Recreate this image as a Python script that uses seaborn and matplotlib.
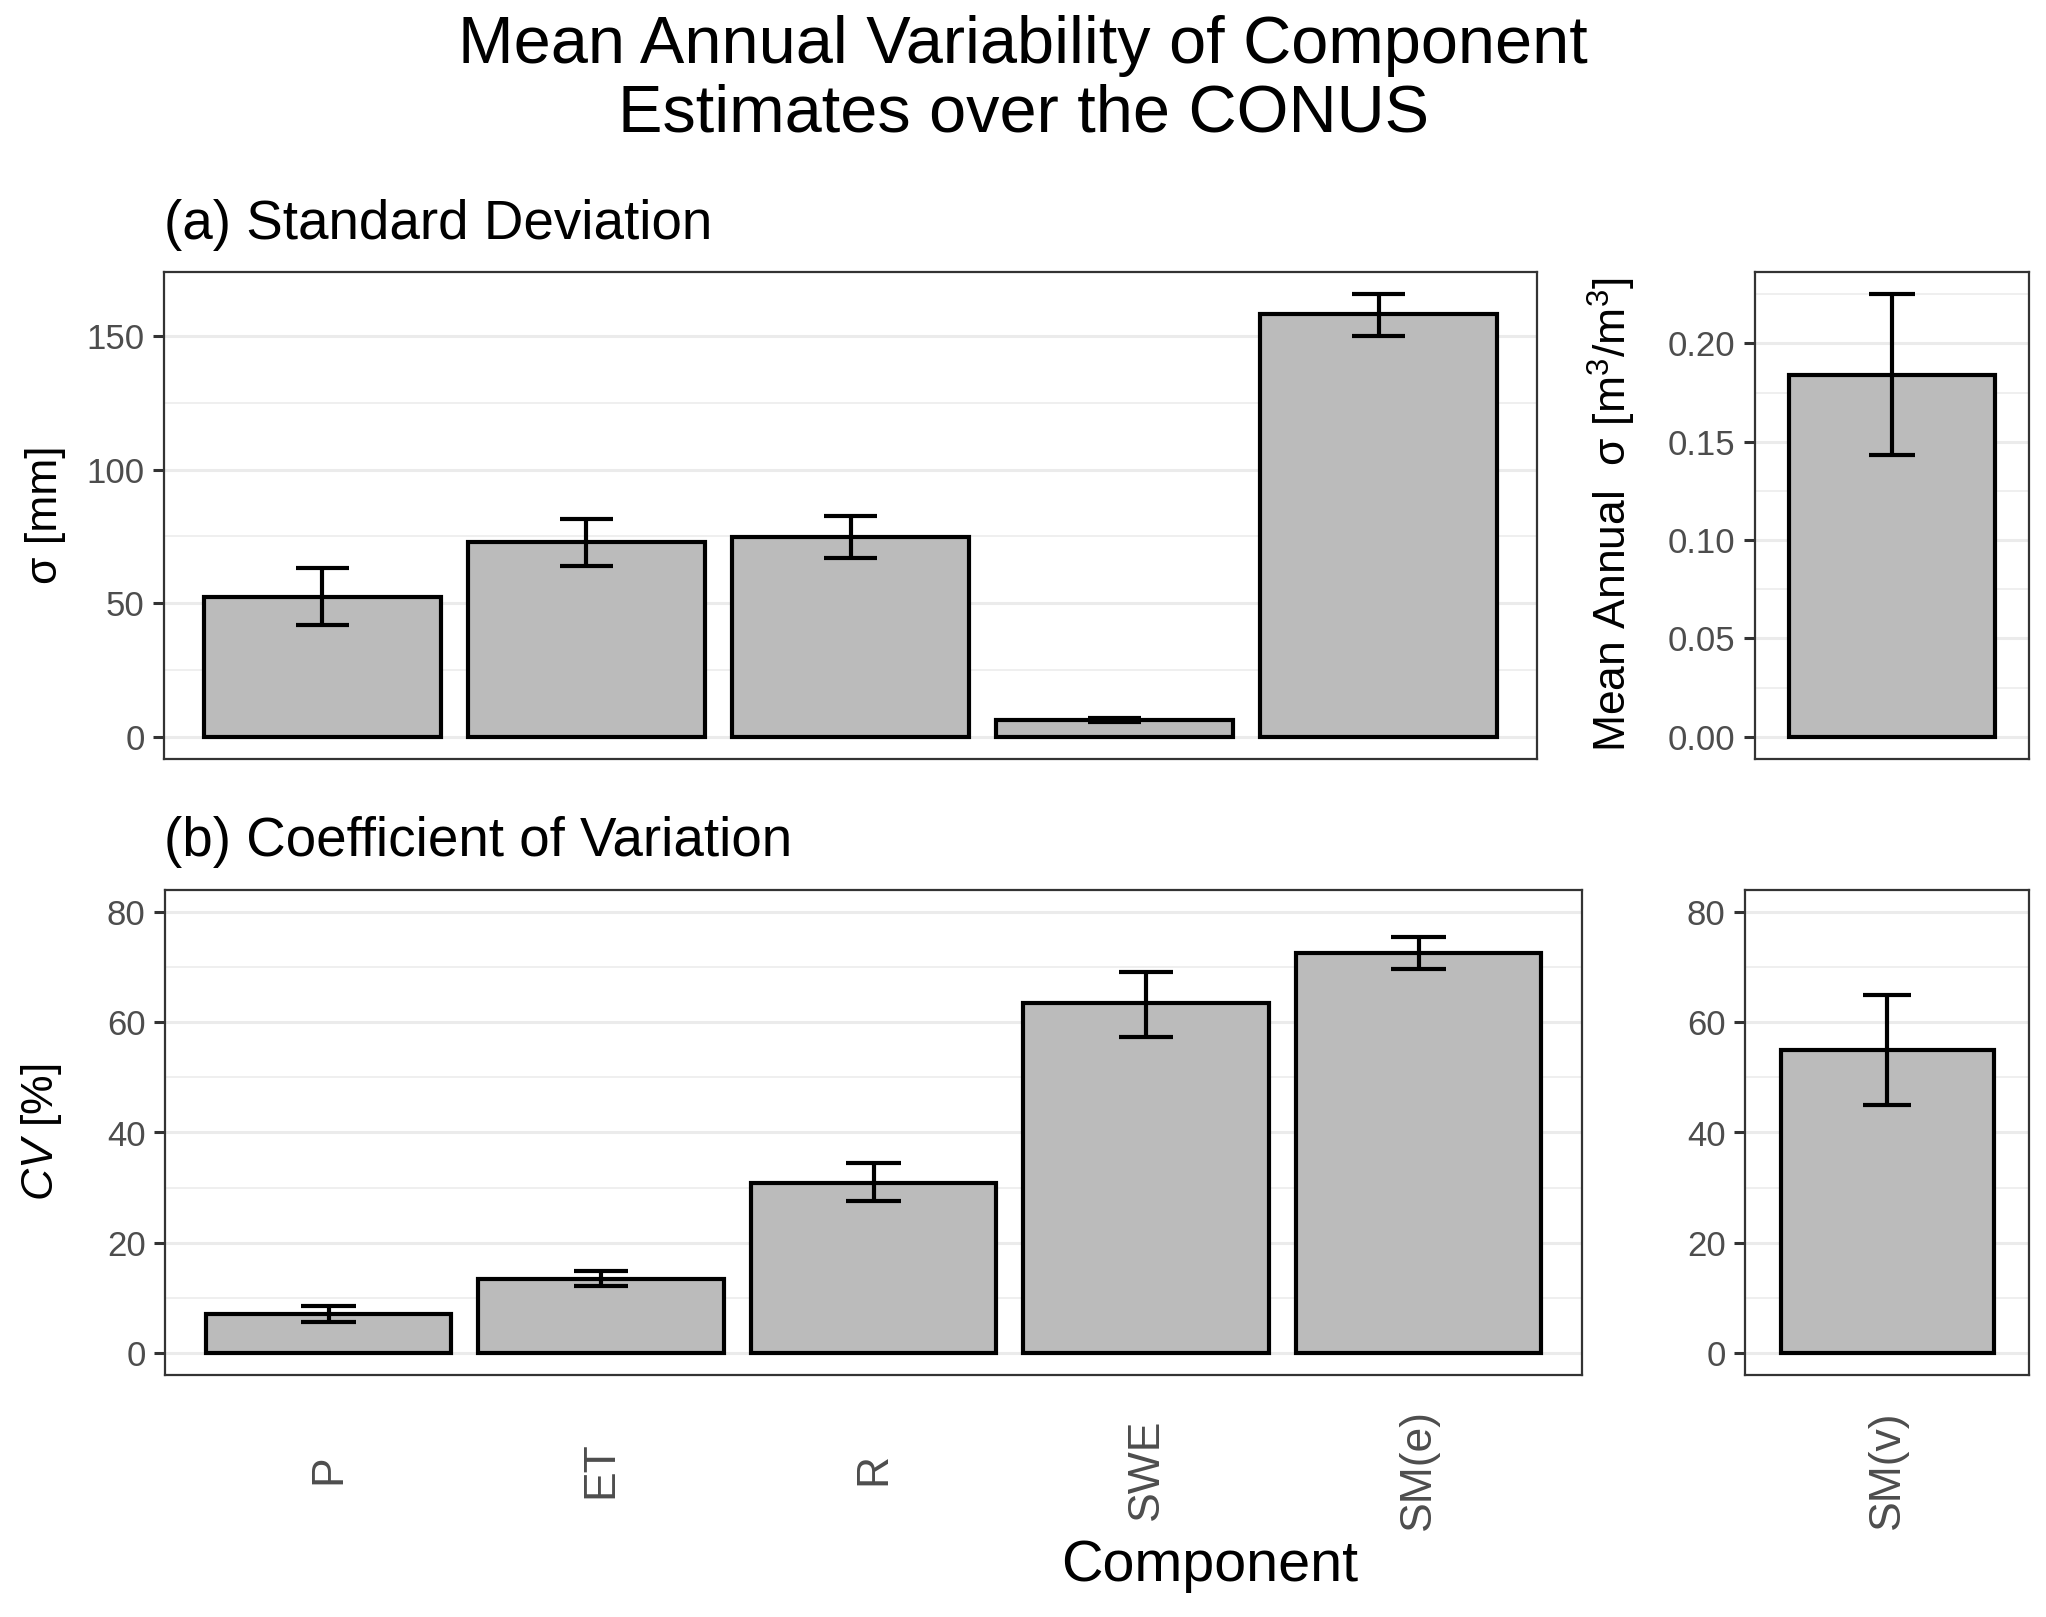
import numpy as np
import pandas as pd
import matplotlib
matplotlib.use('Agg')
import matplotlib.pyplot as plt
from matplotlib.ticker import MultipleLocator
import seaborn as sns

# ── data ────────────────────────────────────────────────
components = ["P", "ET", "R", "SWE", "SM(e)"]
sd_mean = [52.3, 72.8, 74.7, 6.2, 158.3]
sd_lo = [42.0, 64.0, 67.0, 5.5, 150.0]
sd_hi = [63.0, 81.6, 82.6, 7.2, 165.6]

cv_mean = [7.0, 13.4, 30.8, 63.5, 72.5]
cv_lo = [5.6, 12.2, 27.5, 57.4, 69.6]
cv_hi = [8.5, 14.8, 34.4, 69.2, 75.5]

vol_component = ["SM(v)"]
vol_sd_mean = [0.184]
vol_sd_lo = [0.143]
vol_sd_hi = [0.225]
vol_cv_mean = [55.0]
vol_cv_lo = [45.0]
vol_cv_hi = [65.0]

cv_limits = (0, 80)

BAR_FILL = "#BBBBBB"
GRID = "#EBEBEB"
FRAME = "#333333"
TICK_TXT = "#4D4D4D"

sns.set_theme(style="white")
plt.rcParams.update({
    'font.family': ['Liberation Sans', 'DejaVu Sans'],
    'mathtext.fontset': 'custom',
    'mathtext.rm': 'Liberation Sans',
    'mathtext.it': 'Liberation Sans:italic',
})

W, H = 2046, 1617
fig = plt.figure(figsize=(W / 200, H / 200), dpi=200)
fig.patch.set_facecolor("white")


def box(x0, y0, x1, y1):
    # pixel box (top-left origin) -> figure fraction rect
    return [x0 / W, 1 - y1 / H, (x1 - x0) / W, (y1 - y0) / H]


def bar_panel(ax, cats, mean, lo, hi, ylim, major, minor, show_x):
    df = pd.DataFrame({"component": cats, "value": mean})
    sns.barplot(data=df, x="component", y="value", color=BAR_FILL, saturation=1,
                edgecolor="black", linewidth=1.5, width=0.9, ax=ax, zorder=3)
    pos = np.arange(len(cats))
    ax.vlines(pos, lo, hi, color="black", linewidth=1.5, zorder=4)
    ax.hlines(lo, pos - 0.1, pos + 0.1, color="black", linewidth=1.5, zorder=4)
    ax.hlines(hi, pos - 0.1, pos + 0.1, color="black", linewidth=1.5, zorder=4)

    ax.set_xlim(-0.6, len(cats) - 0.4)
    ax.set_ylim(*ylim)
    ax.yaxis.set_major_locator(MultipleLocator(major))
    ax.yaxis.set_minor_locator(MultipleLocator(minor))
    ax.grid(False)
    ax.grid(axis="y", which="major", color=GRID, linewidth=1.1, zorder=0)
    ax.grid(axis="y", which="minor", color=GRID, linewidth=0.55, zorder=0)
    ax.set_axisbelow(True)
    for s in ax.spines.values():
        s.set_color(FRAME)
        s.set_linewidth(0.8)
    ax.tick_params(axis="y", which="major", length=4, width=1.1, color=FRAME,
                   labelsize=12.5, labelcolor=TICK_TXT, pad=3, left=True)
    ax.tick_params(axis="y", which="minor", length=0)
    ax.set_xlabel("")
    ax.set_ylabel("")
    if show_x:
        ax.tick_params(axis="x", length=0, pad=34, labelsize=16, labelcolor=TICK_TXT)
        ax.set_xticks(pos)
        ax.set_xticklabels(cats, rotation=90, va="center")
    else:
        ax.tick_params(axis="x", length=0, labelbottom=False)


def expanded(lo_val, hi_val):
    span = hi_val - lo_val
    return (lo_val - 0.05 * span, hi_val + 0.05 * span)


# (a) standard deviation
ax_a = fig.add_axes(box(164, 272, 1537, 759))
bar_panel(ax_a, components, sd_mean, sd_lo, sd_hi,
          expanded(0, max(sd_hi)), 50, 25, False)
ax_a.yaxis.set_major_formatter(matplotlib.ticker.FormatStrFormatter("%d"))

ax_av = fig.add_axes(box(1755, 272, 2029, 759))
bar_panel(ax_av, vol_component, vol_sd_mean, vol_sd_lo, vol_sd_hi,
          expanded(0, max(vol_sd_hi)), 0.05, 0.025, False)
ax_av.yaxis.set_major_formatter(matplotlib.ticker.FormatStrFormatter("%.2f"))

# (b) coefficient of variation
ax_b = fig.add_axes(box(165, 890, 1582, 1375))
bar_panel(ax_b, components, cv_mean, cv_lo, cv_hi,
          expanded(*cv_limits), 20, 10, True)
ax_b.yaxis.set_major_formatter(matplotlib.ticker.FormatStrFormatter("%d"))

ax_bv = fig.add_axes(box(1745, 890, 2029, 1375))
bar_panel(ax_bv, vol_component, vol_cv_mean, vol_cv_lo, vol_cv_hi,
          expanded(*cv_limits), 20, 10, True)
ax_bv.yaxis.set_major_formatter(matplotlib.ticker.FormatStrFormatter("%d"))

# text
fig.text(0.5, 1 - 46 / H, "Mean Annual Variability of Component",
         ha="center", va="center", fontsize=24, color="black")
fig.text(0.5, 1 - 115 / H, "Estimates over the CONUS",
         ha="center", va="center", fontsize=24, color="black")
fig.text(164 / W, 1 - 239 / H, "(a) Standard Deviation",
         ha="left", va="baseline", fontsize=19.7, color="black")
fig.text(164 / W, 1 - 856 / H, "(b) Coefficient of Variation",
         ha="left", va="baseline", fontsize=19.7, color="black")

fig.text(46 / W, 1 - 515 / H, "σ [mm]", rotation=90,
         ha="center", va="center", fontsize=16, color="black")
fig.text(1612 / W, 1 - 515 / H, "Mean Annual  σ [m$^3$/m$^3$]", rotation=90,
         ha="center", va="center", fontsize=16, color="black")
fig.text(42 / W, 1 - 1132 / H, "$CV$ [%]", rotation=90,
         ha="center", va="center", fontsize=16, color="black")
fig.text(1210 / W, 1 - 1581 / H, "Component",
         ha="center", va="baseline", fontsize=20.7, color="black")

fig.savefig("out.png", dpi=200, facecolor="white")
